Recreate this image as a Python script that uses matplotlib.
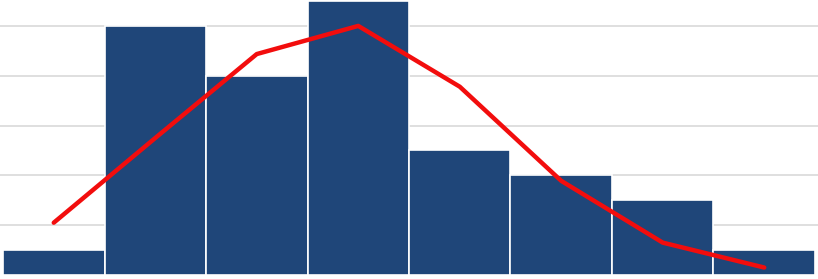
import matplotlib
matplotlib.use("Agg")
import matplotlib.pyplot as plt

bins = [0, 1, 2, 3, 4, 5, 6, 7]
counts = [1, 10, 8, 11, 5, 4, 3, 1]
curve = [2.1, 5.5, 8.87, 10.0, 7.56, 3.78, 1.3, 0.3]

fig = plt.figure(figsize=(8.18, 2.79), dpi=100)
ax = fig.add_axes([0, 0, 1, 1])

ax.bar(bins, counts, width=1.0, color="#1F4679", edgecolor="white", linewidth=1.2, zorder=2)
ax.plot(bins, curve, color="#F20D0D", linewidth=3.2, solid_capstyle="round", zorder=3)

ax.set_xlim(-0.5296, 7.5296)
ax.set_ylim(-0.16, 11.04)
ax.set_yticks([2, 4, 6, 8, 10])
ax.yaxis.grid(True, color="#D9D9D9", linewidth=1.2, zorder=0)
ax.set_axisbelow(True)
ax.tick_params(left=False, bottom=False, labelleft=False, labelbottom=False)
for s in ax.spines.values():
    s.set_visible(False)

fig.savefig("out.png", dpi=100)
